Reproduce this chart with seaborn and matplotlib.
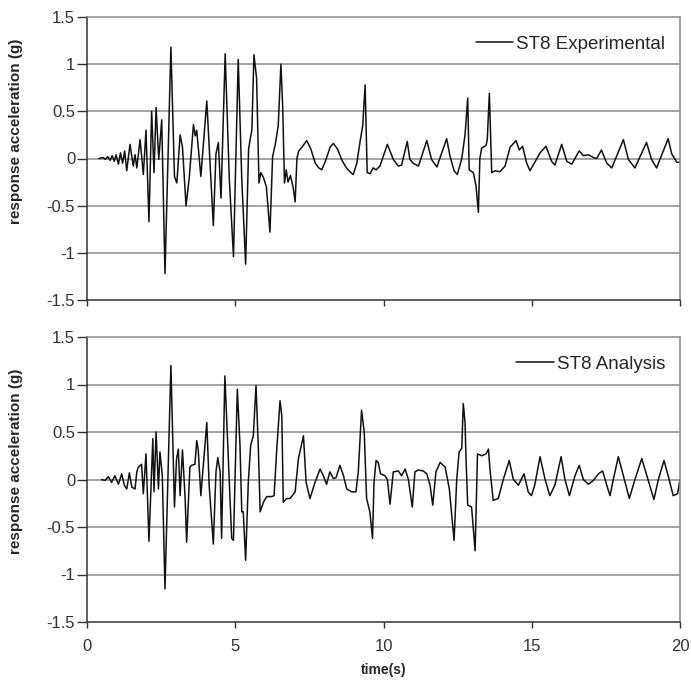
import matplotlib
matplotlib.use("Agg")
import matplotlib.pyplot as plt
import seaborn as sns
import pandas as pd

# ST8 Experimental (time s, response acceleration g)
tiempo_exp = [0.40, 0.55, 0.62, 0.70, 0.78, 0.85, 0.92, 0.98, 1.06, 1.13, 1.20, 1.27, 1.34, 1.45,
              1.56, 1.62, 1.68, 1.79, 1.90, 1.99, 2.09, 2.18, 2.26, 2.33, 2.42, 2.52, 2.63, 2.83,
              2.95, 3.03, 3.14, 3.22, 3.34, 3.45, 3.59, 3.65, 3.70, 3.84, 4.04, 4.14, 4.26, 4.35,
              4.43, 4.52, 4.66, 4.80, 4.94, 5.10, 5.22, 5.35, 5.45, 5.50, 5.56, 5.63, 5.72, 5.80,
              5.86, 5.95, 6.05, 6.17, 6.26, 6.35, 6.45, 6.54, 6.60, 6.66, 6.72, 6.78, 6.86, 6.95,
              7.02, 7.08, 7.14, 7.25, 7.41, 7.55, 7.70, 7.82, 7.92, 8.05, 8.20, 8.31, 8.45, 8.60,
              8.75, 8.90, 8.98, 9.10, 9.22, 9.30, 9.38, 9.45, 9.55, 9.65, 9.75, 9.88, 10.13, 10.33,
              10.50, 10.61, 10.80, 10.89, 11.00, 11.18, 11.46, 11.62, 11.80, 12.13, 12.24, 12.38,
              12.49, 12.64, 12.75, 12.84, 12.89, 13.03, 13.12, 13.20, 13.25, 13.31, 13.46, 13.50,
              13.57, 13.65, 13.76, 13.93, 14.10, 14.27, 14.47, 14.58, 14.69, 14.83, 14.94, 15.28,
              15.48, 15.67, 15.78, 16.01, 16.18, 16.35, 16.60, 16.74, 16.91, 17.08, 17.19, 17.35,
              17.53, 17.70, 18.09, 18.26, 18.48, 18.87, 19.04, 19.21, 19.60, 19.72, 19.89, 20.00]
acel_exp = [0.00, 0.01, -0.01, 0.02, -0.02, 0.03, -0.03, 0.04, -0.06, 0.06, -0.05, 0.08, -0.13, 0.15,
            -0.08, 0.04, -0.10, 0.20, -0.17, 0.30, -0.67, 0.50, -0.15, 0.54, -0.01, 0.41, -1.22, 1.18,
            -0.19, -0.26, 0.25, 0.12, -0.50, -0.20, 0.36, 0.24, 0.30, -0.19, 0.61, 0.00, -0.71, 0.05,
            0.17, -0.42, 1.11, -0.22, -1.04, 1.05, -0.22, -1.12, 0.10, 0.20, 0.30, 1.10, 0.85, -0.26,
            -0.15, -0.20, -0.30, -0.78, 0.02, 0.15, 0.35, 1.00, 0.55, -0.26, -0.12, -0.25, -0.18, -0.30,
            -0.46, 0.00, 0.08, 0.12, 0.19, 0.10, -0.05, -0.10, -0.12, -0.02, 0.12, 0.16, 0.10, -0.02,
            -0.10, -0.15, -0.17, -0.05, 0.20, 0.35, 0.78, -0.15, -0.16, -0.10, -0.12, -0.08, 0.15, -0.01,
            -0.08, -0.07, 0.18, -0.01, -0.05, -0.08, 0.19, -0.01, -0.09, 0.21, 0.03, -0.13,
            -0.17, 0.00, 0.25, 0.64, -0.12, -0.15, -0.29, -0.57, 0.00, 0.11, 0.14, 0.20,
            0.69, -0.15, -0.13, -0.14, -0.08, 0.12, 0.19, 0.09, 0.13, -0.05, -0.13, 0.06,
            0.13, -0.03, -0.07, 0.15, -0.03, -0.06, 0.08, 0.03, 0.04, 0.01, 0.00, 0.09,
            -0.05, -0.10, 0.20, -0.01, -0.10, 0.17, -0.01, -0.10, 0.21, 0.05, -0.04, -0.04]

# ST8 Analysis
tiempo_ana = [0.49, 0.61, 0.72, 0.83, 0.94, 1.06, 1.17, 1.26, 1.34, 1.43, 1.51, 1.62, 1.68, 1.73,
              1.84, 1.90, 1.99, 2.09, 2.22, 2.26, 2.33, 2.41, 2.46, 2.54, 2.63, 2.83, 2.95, 3.02,
              3.08, 3.14, 3.22, 3.31, 3.36, 3.47, 3.53, 3.64, 3.70, 3.75, 3.84, 4.04, 4.12, 4.26,
              4.35, 4.41, 4.49, 4.54, 4.65, 4.79, 4.88, 4.94, 5.07, 5.16, 5.22, 5.27, 5.35, 5.44,
              5.52, 5.61, 5.70, 5.78, 5.84, 5.95, 6.06, 6.23, 6.31, 6.40, 6.51, 6.57, 6.62, 6.73,
              6.85, 7.02, 7.13, 7.30, 7.39, 7.52, 7.69, 7.86, 7.97, 8.08, 8.19, 8.31, 8.40, 8.53,
              8.65, 8.76, 8.93, 9.07, 9.15, 9.26, 9.35, 9.43, 9.54, 9.63, 9.68, 9.75, 9.82, 9.90,
              10.05, 10.13, 10.22, 10.33, 10.50, 10.61, 10.73, 10.84, 10.97, 11.06, 11.17, 11.34,
              11.46, 11.57, 11.66, 11.77, 11.91, 12.08, 12.22, 12.38, 12.47, 12.55, 12.64, 12.69,
              12.75, 12.78, 12.84, 12.97, 13.09, 13.17, 13.31, 13.46, 13.54, 13.59, 13.70, 13.87,
              14.04, 14.24, 14.38, 14.55, 14.74, 14.88, 14.99, 15.10, 15.28, 15.45, 15.61, 15.78,
              15.99, 16.12, 16.27, 16.46, 16.60, 16.74, 16.91, 17.08, 17.25, 17.39, 17.53, 17.64,
              17.75, 17.92, 18.09, 18.29, 18.48, 18.71, 18.88, 19.12, 19.27, 19.46, 19.60, 19.77,
              19.92, 20.00]
acel_ana = [0.00, -0.01, 0.03, -0.03, 0.04, -0.05, 0.06, -0.06, -0.10, 0.07, -0.08, -0.10, 0.08, 0.13,
            0.16, -0.15, 0.27, -0.65, 0.43, -0.13, 0.50, -0.10, 0.29, 0.04, -1.15, 1.20, -0.29, 0.22,
            0.32, -0.17, 0.31, -0.20, -0.66, 0.13, 0.15, 0.16, 0.41, 0.32, -0.17, 0.60, -0.06, -0.68,
            0.08, 0.23, 0.08, -0.62, 1.09, 0.04, -0.62, -0.64, 0.95, 0.36, -0.34, -0.34, -0.85, -0.03,
            0.36, 0.46, 0.99, 0.32, -0.34, -0.24, -0.18, -0.18, -0.17, 0.32, 0.83, 0.67, -0.24, -0.20,
            -0.20, -0.13, 0.22, 0.46, -0.03, -0.20, -0.03, 0.11, 0.04, -0.05, 0.08, 0.01, 0.02, 0.15,
            0.04, -0.10, -0.13, -0.13, 0.08, 0.73, 0.50, -0.20, -0.34, -0.62, -0.03, 0.20, 0.18, 0.06,
            0.04, 0.00, -0.26, 0.08, 0.09, 0.04, 0.11, 0.00, -0.29, 0.08, 0.10, 0.09,
            0.06, -0.06, -0.27, 0.08, 0.18, 0.13, -0.10, -0.64, 0.00, 0.29, 0.33, 0.80,
            0.60, 0.25, -0.27, -0.29, -0.75, 0.27, 0.25, 0.27, 0.32, 0.11, -0.22, -0.20,
            0.00, 0.20, 0.00, -0.06, 0.06, -0.13, -0.17, -0.06, 0.24, 0.00, -0.17, -0.06,
            0.24, 0.00, -0.17, 0.04, 0.15, 0.00, -0.05, -0.01, 0.06, 0.09, -0.06, -0.17,
            0.00, 0.24, 0.04, -0.20, 0.00, 0.22, 0.04, -0.21, 0.00, 0.20, 0.04, -0.17,
            -0.15, 0.00]

yticks = [-1.5, -1, -0.5, 0, 0.5, 1, 1.5]
ytick_labels = ['-1.5', '-1', '-0.5', '0', '0.5', '1', '1.5']
xticks = [0, 5, 10, 15, 20]

sns.set_style('white')
plt.rcParams['font.family'] = ['Liberation Sans', 'DejaVu Sans']

fig = plt.figure(figsize=(6.91, 6.86), dpi=100)
ax1 = fig.add_axes([87 / 691, 1 - 300 / 686, 593 / 691, 283 / 686])
ax2 = fig.add_axes([87 / 691, 1 - 622 / 686, 593 / 691, 285 / 686])

series = [(ax1, tiempo_exp, acel_exp, 'ST8 Experimental', 0.595),
          (ax2, tiempo_ana, acel_ana, 'ST8 Analysis', 0.565)]

for ax, t, a, nombre, ylab_pos in series:
    df = pd.DataFrame({'t': t, 'a': a})
    sns.lineplot(data=df, x='t', y='a', ax=ax, color='#111111', linewidth=1.1,
                 label=nombre, estimator=None, sort=False)
    ax.set_xlim(0, 20)
    ax.set_ylim(-1.5, 1.5)
    ax.set_yticks(yticks)
    ax.set_yticklabels(ytick_labels)
    ax.set_xticks(xticks)
    for y in yticks[1:-1]:
        ax.axhline(y, color='#8a8a8a', linewidth=1.1, zorder=0)
    for lado in ['top', 'right']:
        ax.spines[lado].set_color('#8a8a8a')
        ax.spines[lado].set_linewidth(1.1)
    for lado in ['left', 'bottom']:
        ax.spines[lado].set_color('#333333')
        ax.spines[lado].set_linewidth(1.1)
    ax.tick_params(axis='y', direction='out', length=7, width=1, color='#333333',
                   labelsize=12, labelcolor='#333333', pad=1.5, left=True)
    ax.tick_params(axis='x', direction='out', length=4, width=1, color='#333333',
                   labelsize=12, labelcolor='#333333', pad=8, bottom=True)
    ax.set_ylabel('response acceleration (g)', fontsize=11, fontweight='bold')
    ax.yaxis.set_label_coords(-0.108, ylab_pos)
    ax.set_xlabel('')
    ax.legend(loc='center right', bbox_to_anchor=(1 - 15 / 593, 1 - 27 / 283),
              frameon=False, fontsize=13.5, handlelength=2.0, handletextpad=0.15,
              borderpad=0, borderaxespad=0)

ax1.set_xticklabels([])
ax2.set_xlabel('time(s)', fontsize=10, fontweight='bold')
ax2.xaxis.set_label_coords(0.5, -0.145)

fig.savefig('out.png', dpi=100, facecolor='white')
